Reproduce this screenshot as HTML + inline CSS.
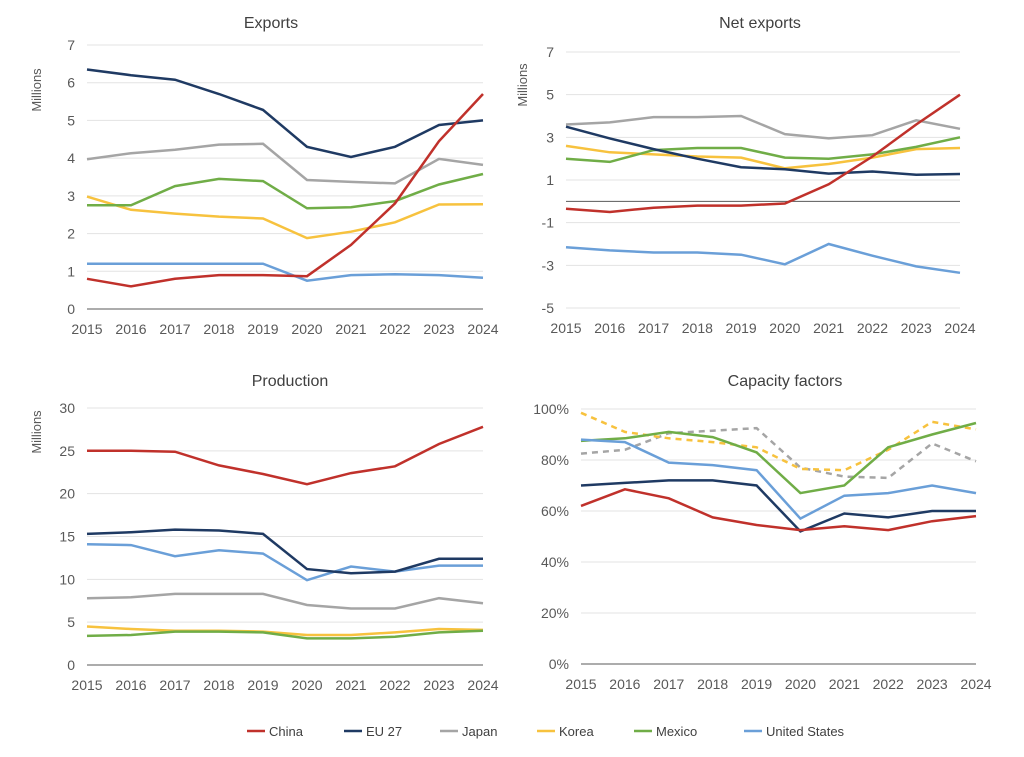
<!DOCTYPE html>
<html><head><meta charset="utf-8"><style>
body{margin:0;background:#fff;}
svg{display:block;font-family:"Liberation Sans",sans-serif;}
</style></head><body>
<svg id="s" width="1024" height="757" xmlns="http://www.w3.org/2000/svg"></svg>
<script>
const S=document.getElementById('s');let h='';
const C={cn:'#c0312b',eu:'#1f3a63',jp:'#a5a5a5',kr:'#f7c23e',mx:'#70ad47',us:'#6a9fd8'};
function chart(o){
 const {x0,x1,yTop,yBot,vmin,vmax,step,title,tx,ty,ylab,ylx,yly,fmt,series,zero}=o;
 const X=i=>x0+(x1-x0)*i/9, Y=v=>yBot-(yBot-yTop)*(v-vmin)/(vmax-vmin);
 h+=`<text x="${tx}" y="${ty}" font-size="16" fill="#404040" text-anchor="middle">${title}</text>`;
 for(let v=vmin;v<=vmax+1e-9;v+=step){const y=Y(v);
  h+=`<line x1="${x0}" x2="${x1}" y1="${y}" y2="${y}" stroke="#e3e3e3" stroke-width="1"/>`;
  h+=`<text x="${x0-12}" y="${y+5}" font-size="14" fill="#595959" text-anchor="end">${fmt(v)}</text>`;}
 const ay=zero!==undefined?Y(zero):yBot;
 h+=`<line x1="${x0}" x2="${x1}" y1="${ay}" y2="${ay}" stroke="#595959" stroke-width="1"/>`;
 for(let i=0;i<10;i++)h+=`<text x="${X(i)}" y="${yBot+25}" font-size="14" fill="#595959" text-anchor="middle">${2015+i}</text>`;
 if(ylab)h+=`<text transform="translate(${ylx},${yly}) rotate(-90)" font-size="13" fill="#595959" text-anchor="middle">${ylab}</text>`;
 for(const [k,d,dash] of series){h+=`<polyline fill="none" stroke="${C[k]}" stroke-width="2.5" ${dash?'stroke-dasharray="6,5"':''} points="${d.map((v,i)=>X(i).toFixed(1)+','+Y(v).toFixed(1)).join(' ')}"/>`;}
}
chart({x0:87,x1:483,yTop:45,yBot:309,vmin:0,vmax:7,step:1,title:'Exports',tx:271,ty:28,ylab:'Millions',ylx:41,yly:90,fmt:v=>v,series:[
['jp',[3.97,4.13,4.22,4.36,4.38,3.42,3.37,3.33,3.98,3.82]],
['kr',[2.98,2.63,2.53,2.45,2.4,1.88,2.05,2.3,2.77,2.78]],
['mx',[2.75,2.75,3.26,3.45,3.39,2.67,2.7,2.86,3.3,3.58]],
['us',[1.2,1.2,1.2,1.2,1.2,.75,.9,.92,.9,.83]],
['eu',[6.35,6.2,6.08,5.7,5.28,4.3,4.03,4.3,4.88,5.0]],
['cn',[.8,.6,.8,.9,.9,.87,1.7,2.8,4.45,5.7]]]});
chart({x0:566,x1:960,yTop:52,yBot:308,vmin:-5,vmax:7,step:2,title:'Net exports',tx:760,ty:28,ylab:'Millions',ylx:527,yly:85,fmt:v=>v,zero:0,series:[
['jp',[3.6,3.7,3.95,3.95,4.0,3.15,2.95,3.1,3.8,3.4]],
['kr',[2.6,2.3,2.2,2.1,2.05,1.55,1.75,2.05,2.45,2.5]],
['mx',[2.0,1.85,2.4,2.5,2.5,2.05,2.0,2.2,2.55,3.0]],
['us',[-2.15,-2.3,-2.4,-2.4,-2.5,-2.95,-2.0,-2.55,-3.05,-3.35]],
['eu',[3.5,2.95,2.45,2.0,1.6,1.5,1.3,1.4,1.25,1.28]],
['cn',[-.35,-.5,-.3,-.2,-.2,-.1,.8,2.1,3.6,5.0]]]});
chart({x0:87,x1:483,yTop:408,yBot:665,vmin:0,vmax:30,step:5,title:'Production',tx:290,ty:386,ylab:'Millions',ylx:41,yly:432,fmt:v=>v,series:[
['jp',[7.8,7.9,8.3,8.3,8.3,7.0,6.6,6.6,7.8,7.2]],
['kr',[4.5,4.2,4.0,4.0,3.9,3.5,3.5,3.8,4.2,4.1]],
['mx',[3.4,3.5,3.9,3.9,3.8,3.1,3.1,3.3,3.8,4.0]],
['us',[14.1,14.0,12.7,13.4,13.0,9.9,11.5,10.9,11.6,11.6]],
['eu',[15.3,15.5,15.8,15.7,15.3,11.2,10.7,10.9,12.4,12.4]],
['cn',[25.0,25.0,24.9,23.3,22.3,21.1,22.4,23.2,25.8,27.8]]]});
chart({x0:581,x1:976,yTop:409,yBot:664,vmin:0,vmax:100,step:20,title:'Capacity factors',tx:785,ty:386,fmt:v=>v+'%',series:[
['jp',[82.5,84,90.5,91.5,92.5,77,73.5,73,86.5,79.5],1],
['kr',[98.5,91,88.5,87,85,76.5,76,84,95,92],1],
['mx',[87.5,88.5,91,89,83,67,70,85,90,94.5]],
['us',[88,87,79,78,76,57,66,67,70,67]],
['eu',[70,71,72,72,70,52,59,57.5,60,60]],
['cn',[62,68.5,65,57.5,54.5,52.5,54,52.5,56,58]]]});
const L=[['cn','China',247],['eu','EU 27',344],['jp','Japan',440],['kr','Korea',537],['mx','Mexico',634],['us','United States',744]];
for(const [k,t,x] of L){h+=`<line x1="${x}" x2="${x+18}" y1="731" y2="731" stroke="${C[k]}" stroke-width="2.5"/><text x="${x+22}" y="736" font-size="13" fill="#404040">${t}</text>`;}
S.innerHTML=h;
</script>
</body></html>
